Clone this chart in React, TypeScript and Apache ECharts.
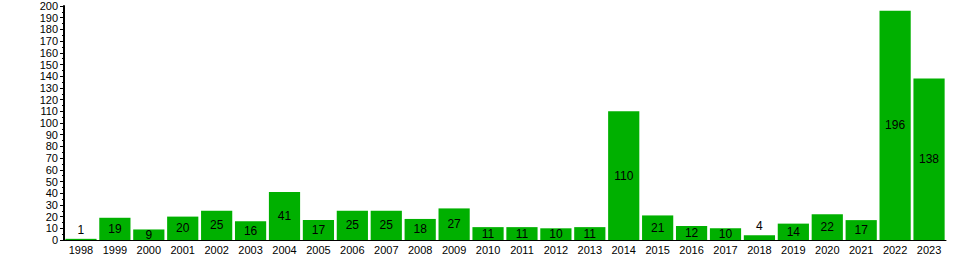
import React, { useEffect, useRef } from "react";
import * as echarts from "echarts";

const years = ["1998","1999","2000","2001","2002","2003","2004","2005","2006","2007","2008","2009","2010","2011","2012","2013","2014","2015","2016","2017","2018","2019","2020","2021","2022","2023"];
const counts = [1,19,9,20,25,16,41,17,25,25,18,27,11,11,10,11,110,21,12,10,4,14,22,17,196,138];
const topLabelBelow = 5;

export default function App() {
  const ref = useRef<HTMLDivElement>(null);
  useEffect(() => {
    if (!ref.current) return;
    const chart = echarts.init(ref.current, null, { renderer: "svg" });
    chart.setOption({
      animation: false,
      grid: { left: 64, right: 14, top: 6, bottom: 20 },
      xAxis: {
        type: "category",
        data: years,
        axisLine: { lineStyle: { color: "#000", width: 1 } },
        axisTick: { show: false },
        axisLabel: { color: "#000", fontFamily: "Liberation Sans, Arial, sans-serif", fontSize: 11, margin: 4 },
      },
      yAxis: {
        type: "value",
        min: 0,
        max: 200,
        interval: 10,
        axisLine: { show: true, lineStyle: { color: "#000", width: 2 } },
        axisTick: { show: true, length: 4, lineStyle: { color: "#000" } },
        minorTick: { show: true, splitNumber: 2, length: 2, lineStyle: { color: "#000" } },
        splitLine: { show: false },
        axisLabel: { color: "#000", fontFamily: "Liberation Sans, Arial, sans-serif", fontSize: 11, margin: 6 },
      },
      series: [
        {
          type: "bar",
          barCategoryGap: "8%",
          itemStyle: { color: "#00b000" },
          data: counts.map((v) => ({
            value: v,
            label: { position: v < topLabelBelow ? "top" : "inside" },
          })),
          label: {
            show: true,
            color: "#000",
            fontFamily: "Liberation Sans, Arial, sans-serif",
            fontSize: 12,
            distance: 3,
          },
        },
      ],
    });
    return () => chart.dispose();
  }, []);
  return <div ref={ref} style={{ position: "absolute", left: 0, top: 0, width: 960, height: 260 }} />;
}
